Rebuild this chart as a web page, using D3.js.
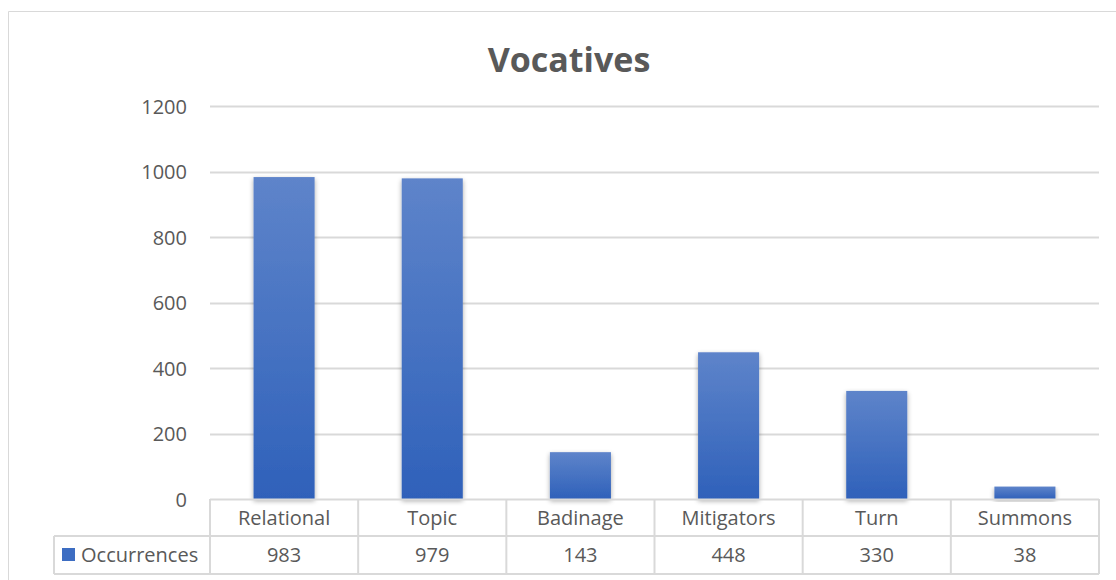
<!DOCTYPE html>
<html>
<head>
<meta charset="utf-8">
<script src="https://cdn.jsdelivr.net/npm/d3@7"></script>
<style>
  html, body { margin: 0; padding: 0; background: #fff; }
  svg { display: block; }
  text { font-family: "Open Sans", "Noto Sans", sans-serif; fill: #595959; }
</style>
</head>
<body>
<svg id="chart" width="1116" height="580"></svg>
<script>
// Vocative categories and their counts
const categories = ["Relational", "Topic", "Badinage", "Mitigators", "Turn", "Summons"];
const occurrences = [983, 979, 143, 448, 330, 38];
const seriesName = "Occurrences";
const yTicks = [0, 200, 400, 600, 800, 1000, 1200];
const chartTitle = "Vocatives";

const svg = d3.select("#chart");
const W = 1116, H = 580;
const labelSize = "20px";

const plot = { left: 210, right: 1099, top: 106, bottom: 499 };
const tableRows = { catTop: 499, valTop: 536, bottom: 574 };
const legendLeft = 54;

// chart frame
svg.append("path")
  .attr("d", `M8.5,${H} V11.5 H${W}`)
  .attr("fill", "none")
  .attr("stroke", "#d9d9d9")
  .attr("stroke-width", 1);

// title
svg.append("text")
  .attr("x", 569).attr("y", 72)
  .attr("text-anchor", "middle")
  .style("font-size", "34px")
  .style("font-weight", "bold")
  .text(chartTitle);

const x = d3.scaleBand().domain(categories).range([plot.left, plot.right]).paddingInner(0).paddingOuter(0);
const y = d3.scaleLinear().domain([0, 1200]).range([plot.bottom, plot.top]);

// gridlines
svg.append("g").selectAll("line").data(yTicks.filter(t => t > 0)).join("line")
  .attr("x1", plot.left).attr("x2", plot.right)
  .attr("y1", d => Math.round(y(d)) + 0.5).attr("y2", d => Math.round(y(d)) + 0.5)
  .attr("stroke", "#d9d9d9").attr("stroke-width", 2);

// y axis labels
const yAxis = d3.axisLeft(y).tickValues(yTicks).tickSize(0).tickPadding(0).tickFormat(d3.format("d"));
const yg = svg.append("g").attr("transform", `translate(187,0)`).call(yAxis);
yg.select(".domain").remove();
yg.selectAll("text")
  .style("font-size", labelSize)
  .style("font-family", "'Open Sans', sans-serif")
  .attr("fill", "#595959")
  .attr("dy", "0.35em");

// bar gradient and shadow
const defs = svg.append("defs");
const grad = defs.append("linearGradient").attr("id", "barGrad")
  .attr("x1", 0).attr("y1", 0).attr("x2", 0).attr("y2", 1)
  .attr("gradientUnits", "objectBoundingBox");
grad.append("stop").attr("offset", "0%").attr("stop-color", "#5e84ca");
grad.append("stop").attr("offset", "100%").attr("stop-color", "#2f61ba");

const shadow = defs.append("filter").attr("id", "barShadow")
  .attr("x", "-30%").attr("y", "-10%").attr("width", "160%").attr("height", "130%");
shadow.append("feGaussianBlur").attr("in", "SourceAlpha").attr("stdDeviation", 2.5).attr("result", "blur");
shadow.append("feOffset").attr("in", "blur").attr("dx", 0).attr("dy", 2).attr("result", "off");
shadow.append("feComponentTransfer").attr("in", "off").attr("result", "soft")
  .append("feFuncA").attr("type", "linear").attr("slope", 0.35);
const merge = shadow.append("feMerge");
merge.append("feMergeNode").attr("in", "soft");
merge.append("feMergeNode").attr("in", "SourceGraphic");

const barW = x.bandwidth() * 0.412;
svg.append("g").selectAll("rect").data(categories).join("rect")
  .attr("x", d => x(d) + (x.bandwidth() - barW) / 2)
  .attr("width", barW)
  .attr("y", (d, i) => y(occurrences[i]))
  .attr("height", (d, i) => y(0) - y(occurrences[i]))
  .attr("fill", "url(#barGrad)")
  .attr("filter", "url(#barShadow)");

// data table
const tbl = svg.append("g").attr("stroke", "#d9d9d9").attr("stroke-width", 2).attr("fill", "none");
tbl.append("line").attr("x1", plot.left).attr("x2", plot.right).attr("y1", tableRows.catTop + 0.5).attr("y2", tableRows.catTop + 0.5);
tbl.append("line").attr("x1", legendLeft).attr("x2", plot.right).attr("y1", tableRows.valTop).attr("y2", tableRows.valTop);
tbl.append("line").attr("x1", legendLeft).attr("x2", plot.right).attr("y1", tableRows.bottom).attr("y2", tableRows.bottom);
const vx = categories.map(c => x(c)).concat([plot.right]);
tbl.selectAll("line.v").data(vx).join("line").attr("class", "v")
  .attr("x1", d => d).attr("x2", d => d)
  .attr("y1", tableRows.catTop).attr("y2", tableRows.bottom);
tbl.append("line").attr("x1", legendLeft).attr("x2", legendLeft).attr("y1", tableRows.valTop).attr("y2", tableRows.bottom);

// category labels
svg.append("g").selectAll("text").data(categories).join("text")
  .attr("x", d => x(d) + x.bandwidth() / 2)
  .attr("y", (tableRows.catTop + tableRows.valTop) / 2)
  .attr("dy", "0.35em")
  .attr("text-anchor", "middle")
  .style("font-size", labelSize)
  .text(d => d);

// value labels
svg.append("g").selectAll("text").data(occurrences).join("text")
  .attr("x", (d, i) => x(categories[i]) + x.bandwidth() / 2)
  .attr("y", (tableRows.valTop + tableRows.bottom) / 2)
  .attr("dy", "0.35em")
  .attr("text-anchor", "middle")
  .style("font-size", labelSize)
  .text(d => d);

// legend key in table
svg.append("rect")
  .attr("x", 62).attr("y", 548).attr("width", 13).attr("height", 13)
  .attr("fill", "#3d6dc2");
svg.append("text")
  .attr("x", 81).attr("y", (tableRows.valTop + tableRows.bottom) / 2)
  .attr("dy", "0.35em")
  .style("font-size", labelSize)
  .text(seriesName);
</script>
</body>
</html>
